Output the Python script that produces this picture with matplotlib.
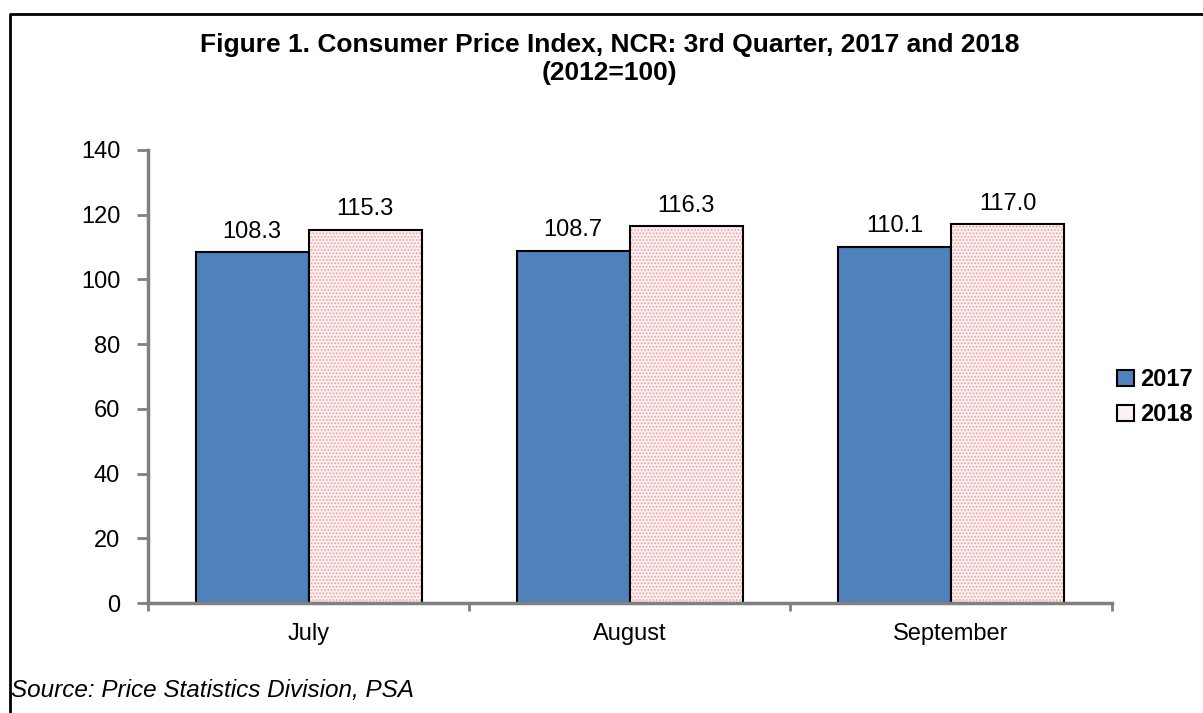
import matplotlib.pyplot as plt
import numpy as np
from matplotlib.patches import Rectangle
from matplotlib.lines import Line2D

plt.rcParams['font.family'] = ['Liberation Sans', 'DejaVu Sans']
plt.rcParams['hatch.linewidth'] = 0.8

months = ['July', 'August', 'September']
cpi_2017 = [108.3, 108.7, 110.1]
cpi_2018 = [115.3, 116.3, 117.0]
series_labels = ['2017', '2018']

blue = '#4f81bd'
pink_bg = '#fdf0f0'
pink_dot = '#ef9a9a'

fig = plt.figure(figsize=(12.03, 7.13), dpi=100)
ax = fig.add_axes([0.123, 0.154, 0.801, 0.636])

x = np.arange(len(months))
w = 0.352
b1 = ax.bar(x - w / 2, cpi_2017, w, color=blue, edgecolor='black', linewidth=1.5)
# dotted fill for 2018: hatch takes the edge colour, so draw the outline separately
ax.bar(x + w / 2, cpi_2018, w, color=pink_bg, edgecolor=pink_dot, linewidth=0, hatch='.....')
b2 = ax.bar(x + w / 2, cpi_2018, w, fill=False, edgecolor='black', linewidth=1.5)

for bars, vals in ((b1, cpi_2017), (b2, cpi_2018)):
    for rect, v in zip(bars, vals):
        ax.text(rect.get_x() + rect.get_width() / 2, v + 3, f'{v:.1f}',
                ha='center', va='bottom', fontsize=17)

ax.set_xlim(-0.5, 2.5)
ax.set_ylim(0, 140)
ax.set_yticks(range(0, 141, 20))
ax.set_xticks([-0.5, 0.5, 1.5, 2.5])
ax.set_xticklabels([])
ax.set_xticks(x, minor=True)
ax.set_xticklabels(months, minor=True, fontsize=17)
ax.tick_params(axis='x', which='minor', length=0, pad=14)
ax.tick_params(axis='x', which='major', length=6, width=2, color='#808080', direction='out')
ax.tick_params(axis='y', length=8, width=2, color='#808080', labelsize=17, pad=12)
for s in ['top', 'right']:
    ax.spines[s].set_visible(False)
for s in ['left', 'bottom']:
    ax.spines[s].set_color('#808080')
    ax.spines[s].set_linewidth(2.5)

fig.text(0.507, 0.937, 'Figure 1. Consumer Price Index, NCR: 3rd Quarter, 2017 and 2018',
         ha='center', va='center', fontsize=19, fontweight='bold')
fig.text(0.507, 0.898, '(2012=100)', ha='center', va='center', fontsize=19, fontweight='bold')

handles = [Rectangle((0, 0), 1, 1, facecolor=blue, edgecolor='black', linewidth=1.5),
           Rectangle((0, 0), 1, 1, facecolor=pink_bg, edgecolor='black', linewidth=1.5)]
fig.legend(handles, series_labels, loc='center left', bbox_to_anchor=(0.921, 0.443),
           frameon=False, prop={'size': 17, 'weight': 'bold'}, handlelength=0.7,
           handleheight=0.7, handletextpad=0.25, labelspacing=0.5, borderaxespad=0)

fig.text(0.009, 0.016, 'Source: Price Statistics Division, PSA', ha='left', va='bottom',
         fontsize=17.5, style='italic')

# outer frame: only top and left edges are visible in the reference
fig.add_artist(Line2D([0.0085, 0.0085, 1.0], [0.0, 0.980, 0.980], transform=fig.transFigure,
                      color='black', linewidth=2))

fig.savefig('out.png', dpi=100)
